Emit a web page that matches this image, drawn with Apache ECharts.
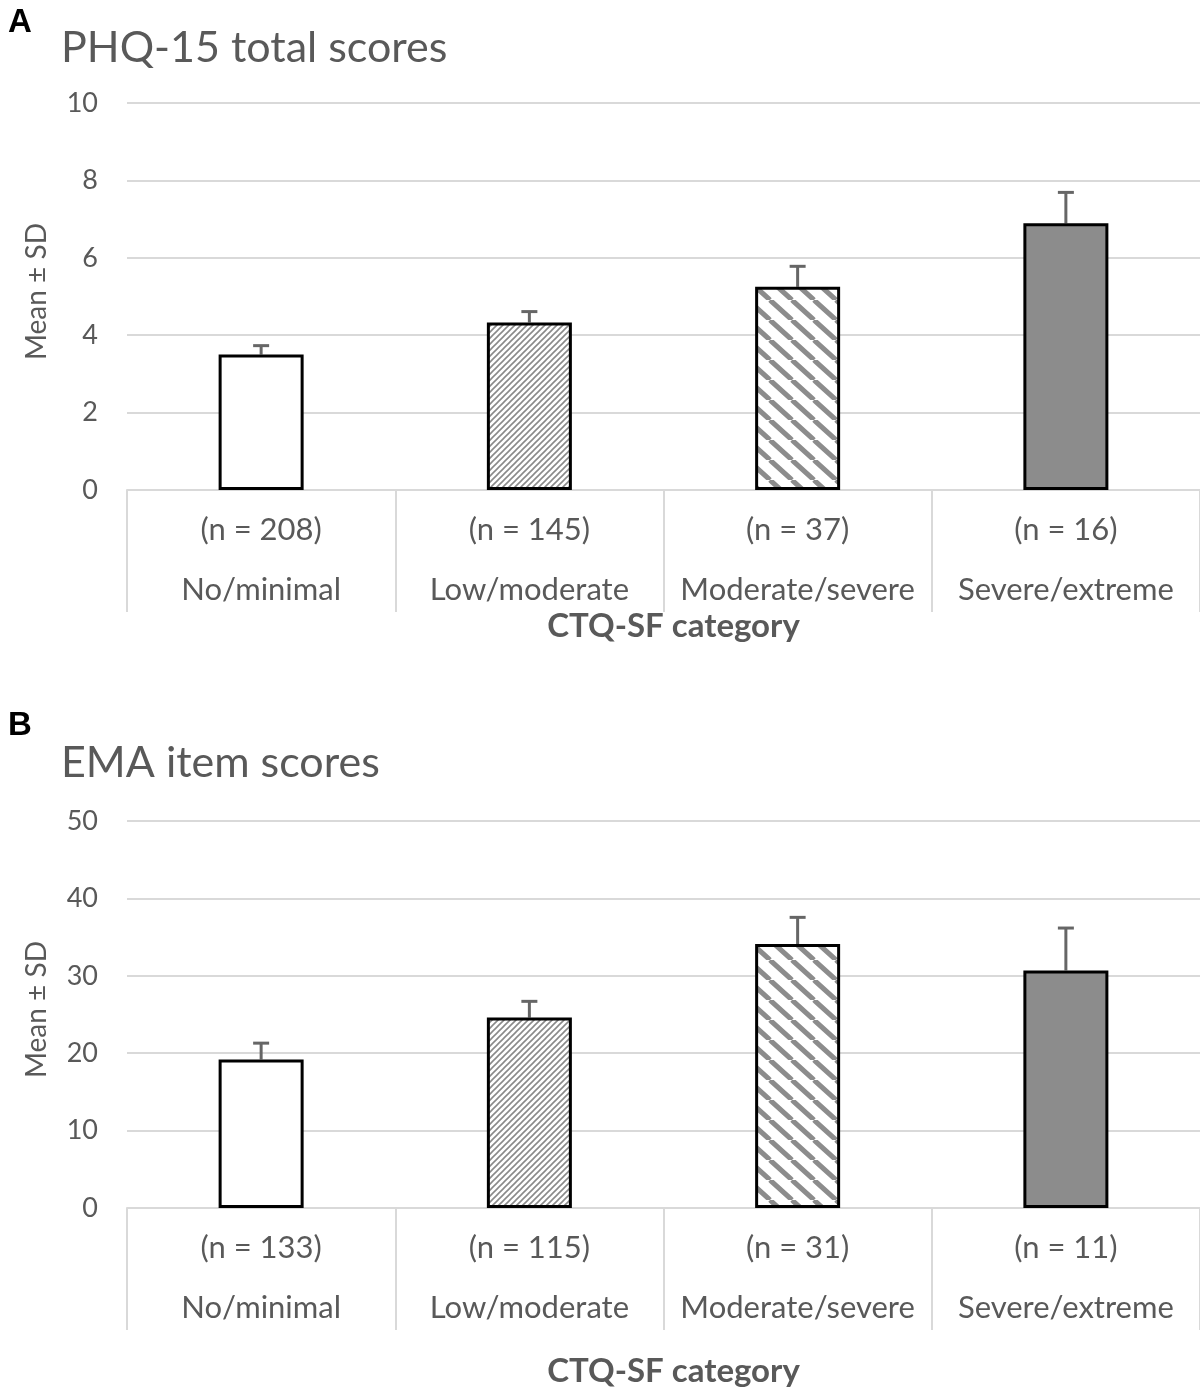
<!DOCTYPE html>
<html>
<head>
<meta charset="utf-8">
<script src="https://cdn.jsdelivr.net/npm/echarts@6/dist/echarts.min.js"></script>
<style>
html,body{margin:0;padding:0;background:#fff;}
#chart{width:1200px;height:1390px;}
</style>
</head>
<body>
<div id="chart"></div>
<script>
var categories = ['No/minimal', 'Low/moderate', 'Moderate/severe', 'Severe/extreme'];
var nA = [208, 145, 37, 16];
var meanA = [3.5, 4.33, 5.25, 6.89];
var sdA = [0.23, 0.28, 0.53, 0.80];
var nB = [133, 115, 31, 11];
var meanB = [19.2, 24.6, 34.1, 30.7];
var sdB = [2.1, 2.1, 3.45, 5.47];
var yTicksA = {min: 0, max: 10, interval: 2};
var yTicksB = {min: 0, max: 50, interval: 10};

var FONT = 'Lato, "Open Sans", sans-serif';
var TXT = '#595959';

function makeFine() {
  var c = document.createElement('canvas');
  c.width = 6; c.height = 6;
  var g = c.getContext('2d');
  g.fillStyle = '#fff'; g.fillRect(0, 0, 6, 6);
  g.strokeStyle = '#8a8a8a'; g.lineWidth = 1.6;
  g.beginPath();
  g.moveTo(-1, 7); g.lineTo(7, -1);
  g.moveTo(-7, 7); g.lineTo(1, -1);
  g.moveTo(5, 7); g.lineTo(13, -1);
  g.stroke();
  return c;
}
function makeWide() {
  var w = 22, h = 20;
  var c = document.createElement('canvas');
  c.width = w; c.height = h;
  var g = c.getContext('2d');
  g.fillStyle = '#fff'; g.fillRect(0, 0, w, h);
  g.strokeStyle = '#8c8c8c'; g.lineWidth = 5;
  g.beginPath();
  for (var k = -1; k <= 1; k++) {
    g.moveTo(k * w, 0); g.lineTo(k * w + w, h);
  }
  g.stroke();
  return c;
}
var fine = makeFine();
var wide = makeWide();
var fills = ['#ffffff', {image: fine, repeat: 'repeat'}, {image: wide, repeat: 'repeat'}, '#8c8c8c'];

function barData(means) {
  return means.map(function (v, i) {
    return {value: v, itemStyle: {color: fills[i]}};
  });
}
function errData(means, sds) {
  return means.map(function (v, i) { return [i, v, v + sds[i]]; });
}
function errRender(params, api) {
  var base = api.coord([api.value(0), api.value(1)]);
  var top = api.coord([api.value(0), api.value(2)]);
  var cap = 8;
  var st = {stroke: '#666666', lineWidth: 3};
  return {
    type: 'group',
    children: [
      {type: 'line', shape: {x1: base[0], y1: base[1], x2: top[0], y2: top[1]}, style: st},
      {type: 'line', shape: {x1: top[0] - cap, y1: top[1], x2: top[0] + cap, y2: top[1]}, style: st}
    ]
  };
}

function xAxisFor(gridIndex, ns, gap) {
  return {
    type: 'category', gridIndex: gridIndex, data: categories,
    axisLine: {lineStyle: {color: '#d9d9d9', width: 2}},
    axisTick: {show: true, length: 122, interval: 0, lineStyle: {color: '#d9d9d9', width: 2}},
    axisLabel: {
      interval: 0, margin: 10, color: TXT, fontSize: 31, fontFamily: FONT, lineHeight: 60,
      formatter: function (v, i) { return '(n = ' + ns[i] + ')\n' + v; }
    },
    name: 'CTQ-SF category', nameLocation: 'middle', nameGap: gap, nameMoveOverlap: false,
    nameTextStyle: {color: TXT, fontSize: 33, fontWeight: 'bold', fontFamily: FONT, padding: [0, 0, 0, 20]}
  };
}
function yAxisFor(gridIndex, t) {
  return {
    type: 'value', gridIndex: gridIndex, min: t.min, max: t.max, interval: t.interval,
    axisLine: {show: false}, axisTick: {show: false},
    splitLine: {lineStyle: {color: '#d9d9d9', width: 2}},
    axisLabel: {color: TXT, fontSize: 27, fontFamily: FONT, margin: 29},
    name: 'Mean ± SD', nameLocation: 'middle', nameGap: 76,
    nameTextStyle: {color: TXT, fontSize: 28, fontFamily: FONT, padding: [0, 0, 0, 10]}
  };
}

var option = {
  animation: false,
  backgroundColor: '#fff',
  title: [
    {text: 'A', left: 3, top: 1, textStyle: {color: '#000', fontSize: 33, fontWeight: 'bold', fontFamily: 'Liberation Sans, Arial, sans-serif'}},
    {text: 'PHQ-15 total scores', left: 56, top: 22, textStyle: {color: TXT, fontSize: 43, fontWeight: 'normal', fontFamily: FONT}},
    {text: 'B', left: 3, top: 704, textStyle: {color: '#000', fontSize: 33, fontWeight: 'bold', fontFamily: 'Liberation Sans, Arial, sans-serif'}},
    {text: 'EMA item scores', left: 56, top: 737, textStyle: {color: TXT, fontSize: 43, fontWeight: 'normal', fontFamily: FONT}}
  ],
  grid: [
    {left: 127, right: 0, top: 103, height: 387},
    {left: 127, right: 0, top: 821, height: 387}
  ],
  xAxis: [xAxisFor(0, nA, 120), xAxisFor(1, nB, 147)],
  yAxis: [yAxisFor(0, yTicksA), yAxisFor(1, yTicksB)],
  series: [
    {type: 'bar', xAxisIndex: 0, yAxisIndex: 0, barWidth: 85, data: barData(meanA),
      itemStyle: {borderColor: '#000', borderWidth: 3}},
    {type: 'custom', xAxisIndex: 0, yAxisIndex: 0, renderItem: errRender, data: errData(meanA, sdA), z: 1},
    {type: 'bar', xAxisIndex: 1, yAxisIndex: 1, barWidth: 85, data: barData(meanB),
      itemStyle: {borderColor: '#000', borderWidth: 3}},
    {type: 'custom', xAxisIndex: 1, yAxisIndex: 1, renderItem: errRender, data: errData(meanB, sdB), z: 1}
  ]
};
var chart = echarts.init(document.getElementById('chart'));
chart.setOption(option);
</script>
</body>
</html>
